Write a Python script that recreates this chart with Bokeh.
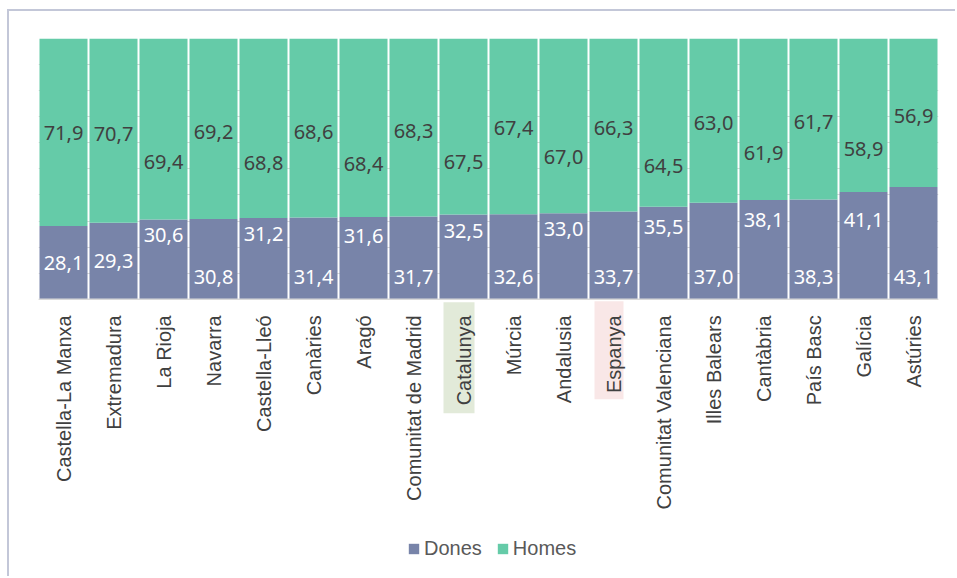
import math
from bokeh.plotting import figure
from bokeh.models import (ColumnDataSource, FactorRange, Range1d, FixedTicker, Span,
                          Legend, LegendItem)
from bokeh.transform import dodge
from bokeh.core.properties import value
from bokeh.embed import file_html
from bokeh.resources import INLINE

# ---------------- data ----------------
categories = ["Castella-La Manxa", "Extremadura", "La Rioja", "Navarra", "Castella-Lleó",
              "Canàries", "Aragó", "Comunitat de Madrid", "Catalunya", "Múrcia", "Andalusia",
              "Espanya", "Comunitat Valenciana", "Illes Balears", "Cantàbria", "País Basc",
              "Galícia", "Astúries"]
dones = [28.1, 29.3, 30.6, 30.8, 31.2, 31.4, 31.6, 31.7, 32.5, 32.6, 33.0, 33.7,
         35.5, 37.0, 38.1, 38.3, 41.1, 43.1]
homes = [71.9, 70.7, 69.4, 69.2, 68.8, 68.6, 68.4, 68.3, 67.5, 67.4, 67.0, 66.3,
         64.5, 63.0, 61.9, 61.7, 58.9, 56.9]
series = ["Dones", "Homes"]
highlighted = ["Catalunya", "Espanya"]
grid_ticks = [0, 10, 20, 30, 40, 50, 60, 70, 80, 90, 100]

# ---------------- style ----------------
C_DONES = "#7884A9"
C_HOMES = "#65CBA8"
HL_COLORS = ["#E2EAD9", "#F9E7E7"]
HL_PX = [(3, 114, 31), (2, 100, 29)]       # (top px below axis, bottom px below axis, width px)
AX_FONT = "Liberation Sans"
LBL_FONT = "Noto Sans"
# label placement: m = middle of segment, t = just under its top, b = near base
dones_anchor = ["m", "m"] + ["t", "b"] * 8
dones_dy = [0, 0, 16, -22, 16, -22, 19, -22, 16, -22, 16, -22, 20, -22, 20, -22, 28, -22]
homes_dy = [1, 3, 33, 3, 35, 4, 36, 3, 35, 2, 31, 3, 43, 2, 34, 3, 34, 3]

W, H = 948, 567
Y_MIN = -104
FRAME_H = 532
PX = FRAME_H / (100 - Y_MIN)      # pixels per percentage point
CAT_W = 900 / len(categories)     # pixels per category
STANDOFF = 16


def fmt(v):
    return f"{v:.1f}".replace(".", ",")


p = figure(x_range=FactorRange(*categories, range_padding=0), y_range=Range1d(Y_MIN, 100),
           width=W, height=H, output_backend="svg", toolbar_location=None,
           x_axis_location=None, y_axis_location=None, min_border_left=29, min_border_top=27,
           min_border_right=19, min_border_bottom=H - 27 - FRAME_H)
p.outline_line_color = None
p.background_fill_color = "white"
p.styles = {"border-top": "2px solid #C3C7D8", "border-left": "2px solid #C3C7D8",
            "margin-left": "7px", "margin-top": "9px"}

src = ColumnDataSource(dict(cat=categories, Dones=dones, Homes=homes))
rs = p.vbar_stack(series, x="cat", width=0.96, color=[C_DONES, C_HOMES],
                  line_color=None, source=src)

p.xgrid.visible = False
p.ygrid.ticker = FixedTicker(ticks=grid_ticks)
p.ygrid.grid_line_color = "#D9D9D9"
p.ygrid.grid_line_width = 1
p.add_layout(Span(location=0, dimension="width", line_color="#D9D9D9", line_width=1.5))

# highlight boxes behind two category labels
hl_src = ColumnDataSource(dict(
    cat=highlighted,
    top=[-t / PX for t, b, w in HL_PX],
    bottom=[-b / PX for t, b, w in HL_PX],
    width=[w / CAT_W for t, b, w in HL_PX],
    color=HL_COLORS))
p.vbar(x=dodge("cat", -0.09, range=p.x_range), top="top", bottom="bottom", width="width",
       fill_color="color", line_color=None, source=hl_src)

# category labels
cat_src = ColumnDataSource(dict(cat=categories, y=[-STANDOFF / PX] * len(categories)))
p.text(x="cat", y="y", text="cat", source=cat_src, angle=math.pi / 2, text_align="right",
       text_baseline="middle", text_color="#404040", text_font=value(AX_FONT),
       text_font_size="20px")

# value labels
dy_ = []
for d, a in zip(dones, dones_anchor):
    dy_.append(d / 2 if a == "m" else (d if a == "t" else 0))
src_d = ColumnDataSource(dict(cat=categories, y=dy_, t=[fmt(v) for v in dones], off=dones_dy))
src_h = ColumnDataSource(dict(cat=categories, y=[d + h / 2 for d, h in zip(dones, homes)],
                              t=[fmt(v) for v in homes], off=homes_dy))
p.text(x="cat", y="y", text="t", y_offset="off", source=src_d, text_align="center",
       text_baseline="middle", text_color="white", text_font=value(LBL_FONT),
       text_font_size="20px")
p.text(x="cat", y="y", text="t", y_offset="off", source=src_h, text_align="center",
       text_baseline="middle", text_color="#404040", text_font=value(LBL_FONT),
       text_font_size="20px")

legend = Legend(items=[LegendItem(label=s, renderers=[r]) for s, r in zip(series, rs)],
                orientation="horizontal", location=(369, 10), glyph_width=13, glyph_height=13,
                label_standoff=4, spacing=14, label_text_font=AX_FONT,
                label_text_font_size="20px", label_text_color="#595959",
                border_line_color=None, background_fill_alpha=0, padding=0, margin=0)
p.add_layout(legend)

open("out.html", "w").write(file_html(p, INLINE))
